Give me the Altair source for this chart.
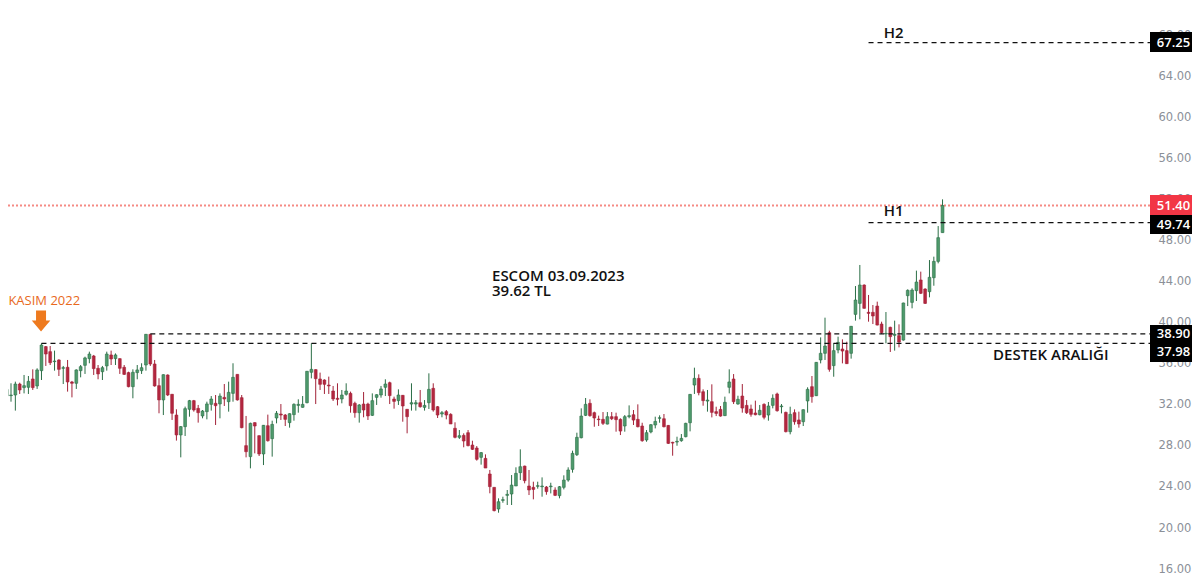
"""ESCOM günlük mum grafiği: destek aralığı ve H1/H2 hedefleri."""

import altair as alt
import pandas as pd

# Mumlar soldan sağa, fiyatlar grafikten okunarak tahmin edildi.
OPEN = [
    29.54, 32.85, 32.89, 32.95, 34.02, 33.67, 33.70, 34.51, 33.83, 35.32,
    37.66, 37.17, 36.20, 36.36, 35.55, 35.65, 34.22, 34.09, 35.32, 35.84,
    36.49, 36.75, 35.55, 35.22, 35.78, 36.85, 36.49, 36.49, 35.65, 35.13,
    33.76, 35.13, 35.32, 35.87, 38.86, 35.97, 33.86, 32.47, 34.90, 33.02,
    31.00, 29.06, 29.87, 31.56, 32.40, 31.65, 30.91, 31.33, 32.04, 32.14,
    32.08, 32.72, 32.30, 33.11, 34.96, 32.69, 28.02, 26.95, 30.26, 28.99,
    27.21, 29.96, 28.70, 30.71, 31.10, 31.00, 30.26, 31.04, 31.94, 31.75,
    32.20, 35.16, 35.42, 34.51, 34.41, 33.92, 33.34, 32.63, 32.56, 33.02,
    33.11, 32.14, 31.23, 32.07, 32.07, 30.97, 32.72, 32.95, 33.70, 34.15,
    32.56, 32.40, 32.92, 31.56, 32.07, 32.07, 32.20, 31.75, 32.20, 33.60,
    31.81, 31.10, 31.33, 31.07, 29.71, 28.83, 29.02, 29.28, 28.08, 27.79,
    26.88, 26.78, 25.26, 23.96, 21.85, 22.69, 23.18, 23.31, 24.09, 25.39,
    26.03, 24.09, 23.96, 24.06, 24.02, 23.99, 24.02, 23.70, 23.15, 23.96,
    24.67, 25.71, 27.14, 28.79, 30.97, 32.14, 31.23, 30.61, 30.58, 30.12,
    30.84, 30.84, 30.58, 29.93, 30.84, 31.03, 30.58, 29.93, 28.57, 29.35,
    30.03, 30.68, 30.64, 29.99, 28.34, 28.37, 28.50, 28.89, 30.25, 33.92,
    34.57, 33.27, 32.36, 32.30, 31.33, 31.55, 30.94, 33.70, 34.51, 32.07,
    32.85, 31.94, 31.59, 31.20, 31.03, 32.04, 31.00, 31.94, 33.05, 31.81,
    31.26, 29.38, 31.23, 30.52, 30.35, 32.37, 33.76, 32.88, 36.36, 37.01,
    39.02, 35.81, 37.33, 37.43, 37.27, 37.01, 40.80, 41.87, 43.66, 41.00,
    41.00, 41.61, 39.86, 38.89, 39.54, 38.76, 38.73, 38.30, 42.62, 41.97,
    43.11, 44.15, 43.27, 43.01, 44.37, 45.96, 48.76,
]
HIGH = [
    32.47, 34.54, 34.09, 34.25, 34.15, 34.90, 34.80, 35.45, 35.55, 37.98,
    37.72, 37.72, 37.27, 36.43, 35.78, 36.36, 34.32, 35.45, 35.87, 36.68,
    37.17, 36.85, 35.87, 35.78, 37.17, 37.27, 37.00, 36.52, 35.87, 35.22,
    35.45, 35.87, 36.04, 38.89, 38.89, 36.36, 34.58, 34.96, 34.96, 33.05,
    31.56, 29.93, 31.82, 32.47, 32.47, 31.98, 31.49, 32.30, 32.85, 32.95,
    33.11, 34.02, 34.25, 36.04, 34.96, 32.95, 30.91, 30.26, 30.29, 29.02,
    30.03, 31.04, 30.45, 31.39, 32.07, 31.10, 31.17, 32.14, 32.53, 32.85,
    35.29, 37.98, 35.45, 35.13, 34.48, 34.74, 33.83, 34.09, 33.44, 34.09,
    33.28, 32.30, 32.07, 33.24, 32.20, 33.11, 33.02, 33.83, 34.48, 34.25,
    32.79, 33.50, 32.95, 31.56, 34.09, 32.46, 33.44, 32.46, 35.06, 34.09,
    31.88, 31.39, 31.49, 31.17, 30.29, 29.54, 29.22, 29.54, 28.50, 27.98,
    27.40, 27.17, 25.65, 23.96, 22.89, 23.05, 23.70, 25.16, 25.91, 27.66,
    26.07, 25.65, 24.51, 24.51, 24.93, 24.09, 24.41, 23.96, 24.09, 25.13,
    25.91, 27.53, 29.28, 31.65, 32.66, 32.53, 31.33, 30.94, 31.29, 31.29,
    31.29, 31.23, 30.68, 31.00, 31.94, 31.49, 32.04, 30.25, 29.54, 30.12,
    30.84, 30.97, 31.10, 30.03, 28.40, 28.89, 29.15, 30.25, 33.05, 35.61,
    34.96, 33.50, 33.44, 33.99, 31.81, 31.88, 32.79, 35.45, 34.99, 32.88,
    34.02, 32.46, 32.01, 32.40, 31.98, 32.14, 32.27, 33.01, 33.18, 32.07,
    31.33, 31.81, 31.55, 31.33, 31.55, 33.70, 34.80, 36.16, 38.56, 40.48,
    39.21, 37.98, 38.63, 38.37, 38.14, 39.67, 43.56, 45.61, 43.72, 42.69,
    41.71, 42.04, 40.09, 41.03, 39.60, 40.19, 39.83, 41.94, 43.24, 43.34,
    45.06, 44.96, 43.34, 46.09, 46.42, 49.40, 52.00,
]
LOW = [
    28.57, 31.82, 32.30, 31.43, 33.05, 33.11, 33.05, 33.44, 33.54, 34.41,
    35.78, 35.87, 35.32, 34.80, 34.02, 33.28, 32.72, 33.54, 34.67, 35.00,
    36.04, 34.90, 34.48, 34.41, 35.32, 35.87, 35.87, 35.00, 34.90, 33.70,
    32.63, 34.48, 35.00, 35.32, 35.78, 33.76, 31.17, 31.00, 32.85, 30.52,
    28.51, 26.88, 28.96, 30.84, 31.33, 30.26, 30.68, 30.58, 31.43, 30.03,
    30.68, 31.88, 31.33, 32.30, 32.40, 29.71, 26.88, 25.81, 27.27, 27.01,
    26.13, 28.41, 26.95, 30.19, 30.52, 29.93, 29.77, 30.45, 31.23, 31.72,
    32.14, 34.57, 32.07, 33.44, 33.05, 33.05, 32.37, 31.94, 32.14, 32.89,
    31.23, 30.74, 30.26, 30.78, 30.52, 30.91, 31.98, 32.69, 32.85, 32.07,
    31.62, 31.98, 30.35, 29.22, 31.43, 31.43, 31.72, 31.43, 31.59, 31.33,
    30.71, 30.78, 30.58, 30.13, 28.73, 28.67, 27.86, 27.95, 27.60, 26.56,
    26.17, 25.84, 23.38, 21.62, 21.49, 22.46, 22.24, 22.24, 24.09, 24.67,
    24.35, 23.21, 22.79, 23.83, 23.05, 23.24, 23.37, 23.11, 22.89, 23.76,
    24.51, 25.39, 27.01, 28.73, 30.90, 30.84, 29.86, 29.93, 30.03, 30.09,
    30.51, 29.38, 29.05, 29.38, 30.68, 30.03, 29.80, 28.40, 28.40, 29.22,
    29.70, 30.25, 29.80, 28.18, 27.04, 28.01, 28.40, 28.83, 29.41, 33.05,
    32.92, 31.91, 31.33, 30.77, 30.90, 30.84, 30.90, 33.11, 32.07, 32.01,
    31.23, 31.10, 30.84, 30.97, 30.97, 30.58, 30.45, 31.65, 31.33, 31.16,
    29.31, 29.12, 30.06, 29.77, 29.93, 31.23, 32.20, 32.85, 36.03, 36.36,
    35.22, 34.73, 37.01, 36.03, 35.97, 36.49, 40.19, 40.32, 41.36, 40.09,
    39.86, 39.73, 38.89, 37.98, 37.14, 37.27, 37.59, 38.24, 41.61, 41.39,
    42.10, 42.78, 41.81, 42.46, 43.59, 45.77, 48.76,
]
CLOSE = [
    32.47, 33.50, 32.95, 34.02, 33.44, 33.86, 34.28, 33.67, 35.39, 37.82,
    36.94, 36.10, 36.26, 35.45, 35.61, 34.22, 34.09, 35.39, 35.71, 36.56,
    36.94, 35.52, 35.00, 35.61, 36.94, 36.46, 36.85, 35.55, 34.96, 33.76,
    35.16, 35.39, 35.61, 38.86, 35.97, 33.83, 32.47, 34.93, 32.95, 31.17,
    29.06, 29.87, 31.62, 32.40, 31.49, 31.23, 31.39, 32.08, 32.56, 31.91,
    32.85, 32.56, 33.21, 34.67, 32.47, 29.77, 27.43, 30.19, 29.93, 27.21,
    30.00, 28.50, 30.09, 31.17, 31.00, 30.58, 31.13, 32.04, 32.04, 32.04,
    35.26, 35.45, 34.54, 33.99, 33.99, 33.83, 32.56, 32.53, 32.95, 33.34,
    31.91, 31.23, 31.98, 31.49, 30.91, 32.40, 32.98, 33.54, 34.02, 32.89,
    32.33, 32.95, 31.88, 30.84, 32.20, 32.20, 31.81, 31.94, 33.50, 31.49,
    31.00, 31.23, 31.00, 30.13, 28.83, 28.99, 28.47, 28.02, 27.66, 26.69,
    27.34, 25.84, 24.03, 21.69, 22.56, 22.76, 23.28, 24.18, 25.32, 25.97,
    24.61, 23.70, 23.76, 24.12, 24.09, 23.54, 24.09, 23.18, 24.02, 24.67,
    25.65, 27.27, 28.83, 30.90, 32.04, 30.94, 30.71, 30.55, 30.19, 30.84,
    30.64, 30.55, 29.44, 30.84, 30.94, 30.51, 29.86, 28.50, 29.28, 30.06,
    30.38, 30.74, 29.86, 28.24, 28.27, 28.44, 28.73, 30.19, 33.01, 34.57,
    33.18, 32.40, 32.46, 31.26, 31.16, 30.90, 32.24, 34.22, 32.30, 32.53,
    31.68, 31.23, 31.07, 31.03, 31.46, 30.78, 31.88, 32.63, 31.42, 31.88,
    29.38, 31.07, 30.35, 30.13, 31.52, 33.50, 32.79, 36.13, 37.01, 37.72,
    35.45, 37.27, 38.08, 37.23, 36.00, 39.64, 42.20, 43.66, 41.39, 40.90,
    40.64, 39.76, 39.02, 38.95, 38.63, 38.86, 38.11, 41.91, 43.14, 43.17,
    43.95, 42.85, 41.87, 44.41, 45.96, 48.27, 51.40,
]

TICKS = [16, 20, 24, 28, 32, 36, 40, 44, 48, 52, 56, 60, 64, 68]

# Kesikli seviyeler: fiyat ve başladığı mum
LEVEL_PRICE = [67.25, 49.74, 38.90, 37.98]
LEVEL_START = [200, 200, 35, 10]

LAST_PRICE = 51.40

# Sağdaki fiyat etiketleri (kutu alt/üst sınırı fiyat cinsinden)
TAG_TEXT = ["67.25", "51.40", "49.74", "38.90", "37.98"]
TAG_TOP = [68.30, 52.42, 50.48, 39.77, 38.01]
TAG_BOTTOM = [66.35, 50.48, 48.63, 38.01, 36.16]
TAG_MID = [67.25, 51.40, 49.50, 38.89, 37.14]
TAG_FILL = ["#000000", "#f23645", "#000000", "#000000", "#000000"]

# Yazılar: mum sırası ve fiyat cinsinden konum
NOTE_TEXT = ["H2", "H1", "ESCOM 03.09.2023", "39.62 TL", "DESTEK ARALIĞI"]
NOTE_BAR = [203.5, 203.5, 113.5, 113.5, 228.6]
NOTE_PRICE = [68.2, 50.9, 44.55, 43.1, 36.85]

GREEN, GREEN_EDGE = "#4e9a6c", "#2b6e46"
RED, RED_EDGE = "#b3263f", "#a32238"
GREY = "#8b9098"
ORANGE = "#ee7a1e"

candles = pd.DataFrame({"open": OPEN, "high": HIGH, "low": LOW, "close": CLOSE})
candles["bar"] = range(1, len(candles) + 1)
candles["dir"] = ["up" if c >= o else "down" for o, c in zip(OPEN, CLOSE)]

levels = pd.DataFrame({"price": LEVEL_PRICE, "start": LEVEL_START, "end": [264.66] * 4})
tags = pd.DataFrame(
    {"text": TAG_TEXT, "top": TAG_TOP, "bottom": TAG_BOTTOM, "mid": TAG_MID, "fill": TAG_FILL}
)
notes = pd.DataFrame({"text": NOTE_TEXT, "bar": NOTE_BAR, "price": NOTE_PRICE})

x_scale = alt.Scale(domain=[2.31, 264.66], nice=False, zero=False, padding=0)
y_scale = alt.Scale(domain=[15.62, 70.63], nice=False, zero=False, padding=0)
x = alt.X("bar:Q", scale=x_scale, axis=None)
y_axis = alt.Axis(
    orient="right",
    values=TICKS,
    format=".2f",
    domain=False,
    ticks=False,
    grid=False,
    title=None,
    labelColor=GREY,
    labelFont="DejaVu Sans",
    labelFontSize=11.5,
    labelPadding=8,
    labelFlush=False,
    labelOverlap=False,
)
dir_scale = alt.Scale(domain=["up", "down"], range=[GREEN, RED])
edge_scale = alt.Scale(domain=["up", "down"], range=[GREEN_EDGE, RED_EDGE])

wicks = (
    alt.Chart(candles)
    .mark_rule(strokeWidth=1, clip=True)
    .encode(
        x=x,
        y=alt.Y("low:Q", scale=y_scale, axis=y_axis),
        y2="high:Q",
        color=alt.Color("dir:N", scale=edge_scale, legend=None),
    )
)
bodies = (
    alt.Chart(candles)
    .mark_bar(size=2.8, strokeWidth=0.6, clip=True)
    .encode(
        x=x,
        y=alt.Y("open:Q", scale=y_scale),
        y2="close:Q",
        fill=alt.Fill("dir:N", scale=dir_scale, legend=None),
        stroke=alt.Stroke("dir:N", scale=edge_scale, legend=None),
    )
)

# Son fiyat çizgisi: ince noktalı çizgi görüntüde griye dönüyordu, biraz kalın tutuldu
last_line = (
    alt.Chart(pd.DataFrame({"price": [LAST_PRICE]}))
    .mark_rule(strokeWidth=1.8, strokeDash=[2, 2], color="#f58a84")
    .encode(y=alt.Y("price:Q", scale=y_scale))
)
level_lines = (
    alt.Chart(levels)
    .mark_rule(strokeWidth=1.2, strokeDash=[5, 4], color="#111111")
    .encode(
        x=alt.X("start:Q", scale=x_scale),
        x2="end:Q",
        y=alt.Y("price:Q", scale=y_scale),
    )
)

tag_boxes = (
    alt.Chart(tags)
    .mark_rect()
    .encode(
        x=alt.value(1142),
        x2=alt.value(1184),
        y=alt.Y("top:Q", scale=y_scale),
        y2="bottom:Q",
        color=alt.Color("fill:N", scale=None),
    )
)
tag_labels = (
    alt.Chart(tags)
    .mark_text(font="Open Sans", fontSize=13, fontWeight=600, color="white", align="center", baseline="middle")
    .encode(x=alt.value(1165.5), y=alt.Y("mid:Q", scale=y_scale), text="text:N")
)

note_labels = (
    alt.Chart(notes)
    .mark_text(font="Open Sans", fontSize=15, fontWeight=600, color="#111111", align="left", baseline="middle")
    .encode(x=alt.X("bar:Q", scale=x_scale), y=alt.Y("price:Q", scale=y_scale), text="text:N")
)
kasim = (
    alt.Chart(pd.DataFrame({"bar": [2.4], "price": [42.1], "text": ["KASIM 2022"]}))
    .mark_text(font="Open Sans", fontSize=13, color="#e8691c", align="left", baseline="middle")
    .encode(x=alt.X("bar:Q", scale=x_scale), y=alt.Y("price:Q", scale=y_scale), text="text:N")
)
# Ok: özel SVG yolu, sembol boyutuyla ölçeklenir
arrow = (
    alt.Chart(pd.DataFrame({"bar": [9.9], "price": [40.16]}))
    .mark_point(
        shape="M-0.5,-1.05L0.5,-1.05L0.5,-0.05L0.93,-0.05L0,1.05L-0.93,-0.05L-0.5,-0.05Z",
        size=400,
        filled=True,
        opacity=1,
        color=ORANGE,
    )
    .encode(x=alt.X("bar:Q", scale=x_scale), y=alt.Y("price:Q", scale=y_scale))
)

chart = (
    alt.layer(last_line, wicks, bodies, level_lines, tag_boxes, tag_labels, note_labels, kasim, arrow)
    .resolve_scale(color="independent")
    .properties(
        width=1142,
        height=565,
        padding={"left": 0, "top": 0, "right": 42, "bottom": 0},
        autosize=alt.AutoSizeParams(type="none"),
        background="#ffffff",
    )
    .configure_view(stroke=None)
)

chart.save("out.html", embed_options={"renderer": "svg", "actions": False})
